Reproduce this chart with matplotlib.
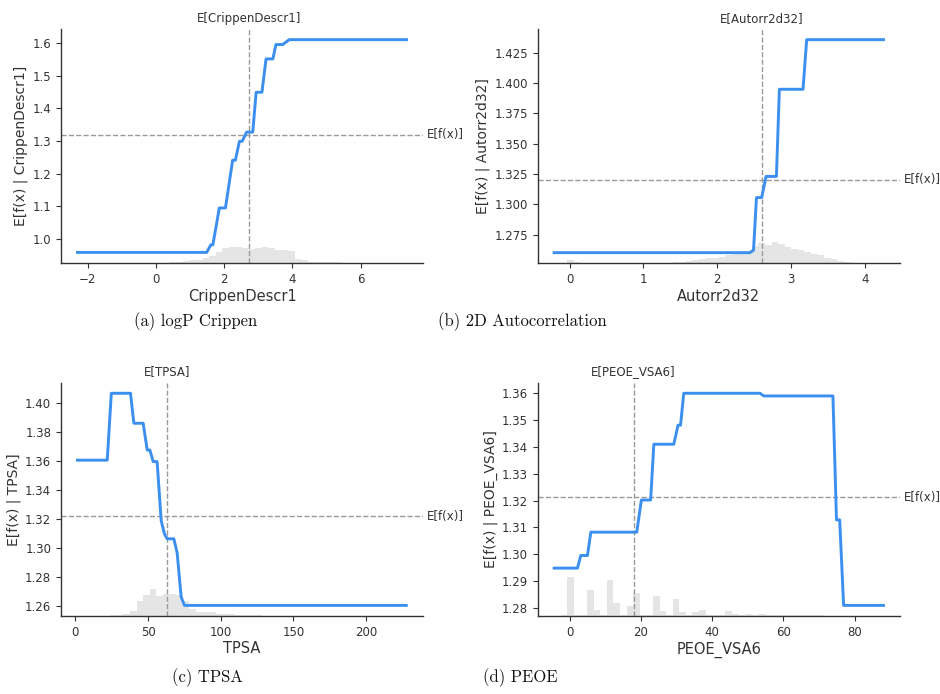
import numpy as np
import matplotlib
matplotlib.use("Agg")
import matplotlib.pyplot as plt

# curvas de dependencia parcial (vertices)
xa = [-2.3, 1.49, 1.61, 1.67, 1.86, 2.04, 2.25, 2.33, 2.45, 2.53, 2.66, 2.84, 2.94, 3.11, 3.23, 3.43, 3.52, 3.72, 3.91, 7.35]
ya = [0.959, 0.959, 0.982, 0.982, 1.095, 1.095, 1.241, 1.241, 1.299, 1.299, 1.327, 1.327, 1.449, 1.449, 1.551, 1.551, 1.595, 1.595, 1.61, 1.61]

xb = [-0.21, 2.44, 2.49, 2.53, 2.60, 2.66, 2.80, 2.84, 3.16, 3.21, 4.25]
yb = [1.260, 1.260, 1.262, 1.3055, 1.3055, 1.323, 1.323, 1.395, 1.395, 1.436, 1.436]

xc = [1.4, 21.9, 24.7, 37.9, 40.2, 46.6, 49.4, 51.2, 53.5, 56.2, 59.0, 61.2, 63.1, 67.7, 70.0, 72.7, 75.0, 227.6]
yc = [1.3605, 1.3605, 1.4067, 1.4067, 1.386, 1.386, 1.3675, 1.3675, 1.3595, 1.3595, 1.3188, 1.3097, 1.3062, 1.3062, 1.2964, 1.2662, 1.2602, 1.2602]

xd = [-4.4, 2.15, 3.08, 4.96, 5.9, 18.8, 20.1, 22.7, 23.6, 29.2, 30.4, 31.1, 32.0, 53.4, 54.5, 73.9, 74.9, 75.8, 76.9, 88.1]
yd = [1.2948, 1.2948, 1.2995, 1.2995, 1.3082, 1.3082, 1.3202, 1.3202, 1.341, 1.341, 1.3481, 1.3481, 1.36, 1.36, 1.359, 1.359, 1.3128, 1.3128, 1.2809, 1.2809]

# histogramas (50 bins, contagem relativa a N_SAMPLES)
N_SAMPLES = 234
hist_a = [0, 0, 0, 0, 0, 0, 0, 0, 0, 0, 0, 0,
          0.3, 0.5, 1, 1.5, 2.5, 3, 3.5, 5, 7, 11,
          15, 16, 16, 15, 14, 15, 16, 15, 13, 13,
          12, 4, 3, 1.5, 1.5, 1, 0.8, 0.8, 0.5, 0.5,
          0.3, 0.2, 0.2, 0, 0, 0, 0, 0]
hist_b = [0, 0.5, 3, 1,
          0.2, 0.2, 0.2, 0.2, 0.2, 0.2, 0.2, 0.2, 0.2, 0.2, 0.2, 0.2, 0.2,
          0.5, 1, 1.5, 2,
          3, 4, 5, 5, 6, 8, 9, 9, 10,
          17, 20, 18, 21, 19, 16, 14, 13, 11, 9,
          8, 5, 4, 2, 1, 0.5, 0, 0, 0, 0]
hist_c = [0, 0, 0, 0, 0.3, 0.7, 1, 1.5, 5, 15,
          21, 27, 20, 22, 22, 21, 15, 7, 4.5, 4.5,
          4.5, 2, 2, 2, 1, 1, 0.7, 0.5, 0.3, 0.2,
          0.2, 0.2, 0.2, 0.2, 0.2, 0, 0, 0, 0, 0,
          0, 0, 0, 0, 0, 0, 0, 0, 0, 0]
hist_d = [0, 0.5, 39, 0.5, 0.5, 26, 6.5, 0.5, 36, 13,
          0.5, 10, 23, 0.5, 0.5, 20, 5, 0.5, 17, 4,
          1, 4, 6.5, 1, 0.5, 1, 5, 2.5, 1, 2.5,
          0.5, 2.5, 1, 0.5, 0.5, 0.5, 0.5, 0.5, 0.5, 0.5,
          0.5, 0.3, 0.3, 0.3, 0.3, 0.3, 0.3, 0.3, 0.3, 0.3]

# valor esperado do modelo e media de cada variavel
expected = [1.319, 1.3204, 1.3218, 1.3212]
feat_mean = [2.73, 2.60, 62.9, 17.9]

features = ["CrippenDescr1", "Autorr2d32", "TPSA", "PEOE_VSA6"]
captions = ["(a) logP Crippen", "(b) 2D Autocorrelation", "(c) TPSA", "(d) PEOE"]
xticks = [[-2, 0, 2, 4, 6], [0, 1, 2, 3, 4], [0, 50, 100, 150, 200], [0, 20, 40, 60, 80]]
yticks = [[1.0, 1.1, 1.2, 1.3, 1.4, 1.5, 1.6],
          [1.275, 1.300, 1.325, 1.350, 1.375, 1.400, 1.425],
          [1.26, 1.28, 1.30, 1.32, 1.34, 1.36, 1.38, 1.40],
          [1.28, 1.29, 1.30, 1.31, 1.32, 1.33, 1.34, 1.35, 1.36]]
yfmt = ["{:.1f}", "{:.3f}", "{:.2f}", "{:.2f}"]

curves = [(xa, ya), (xb, yb), (xc, yc), (xd, yd)]
hists = [hist_a, hist_b, hist_c, hist_d]

# posicao dos paineis em fracao da figura
rects = [[0.0649, 0.6210, 0.3851, 0.3372],
         [0.5720, 0.6206, 0.3854, 0.3376],
         [0.0649, 0.1124, 0.3848, 0.3362],
         [0.5720, 0.1124, 0.3854, 0.3362]]
caption_pos = [(0.2085, 0.536), (0.556, 0.536), (0.221, 0.024), (0.554, 0.024)]

TXT = "#333333"

fig = plt.figure(figsize=(9.4, 6.94), dpi=100)

for i in range(4):
    x, y = curves[i]
    ax = fig.add_axes(rects[i])

    # histograma no eixo gemeo, como no shap
    ax2 = ax.twinx()
    edges = np.linspace(x[0], x[-1], len(hists[i]) + 1)
    ax2.bar(edges[:-1], hists[i], width=np.diff(edges), align="edge",
            color="black", alpha=0.1, linewidth=0)
    ax2.set_ylim(0, N_SAMPLES)
    ax2.set_yticks([])
    for s in ax2.spines.values():
        s.set_visible(False)
    ax.set_zorder(ax2.get_zorder() + 1)
    ax.patch.set_visible(False)

    ax.plot(x, y, color="#3b8fef", linewidth=2.1, solid_joinstyle="round")
    ax.axhline(expected[i], color="#999999", linestyle="--", linewidth=1, zorder=-1)
    ax.axvline(feat_mean[i], color="#999999", linestyle="--", linewidth=1, zorder=-1)

    ax.margins(x=0.05, y=0.05)
    ax2.set_xlim(ax.get_xlim())

    ax.set_xticks(xticks[i])
    ax.set_yticks(yticks[i])
    ax.set_yticklabels([yfmt[i].format(v) for v in yticks[i]])
    ax.tick_params(labelsize=8.5, colors=TXT, length=3.5, width=0.8)
    for side in ["top", "right"]:
        ax.spines[side].set_visible(False)
    for side in ["left", "bottom"]:
        ax.spines[side].set_color(TXT)
        ax.spines[side].set_linewidth(1.0)

    ax.set_xlabel(features[i], fontsize=10.5, color=TXT, labelpad=2)
    ax.set_ylabel(f"E[f(x) | {features[i]}]", fontsize=10, color=TXT, labelpad=3)

    ax.annotate("E[f(x)]", xy=(1, expected[i]), xycoords=("axes fraction", "data"),
                xytext=(3, 0), textcoords="offset points", ha="left", va="center",
                fontsize=8.5, color=TXT)
    ax.annotate(f"E[{features[i]}]", xy=(feat_mean[i], 1), xycoords=("data", "axes fraction"),
                xytext=(0, 3), textcoords="offset points", ha="center", va="bottom",
                fontsize=8.5, color=TXT)

    fig.text(caption_pos[i][0], caption_pos[i][1], captions[i], family="cmr10",
             fontsize=12, ha="center", va="center", color="#111111")

fig.savefig("out.png", dpi=100)
